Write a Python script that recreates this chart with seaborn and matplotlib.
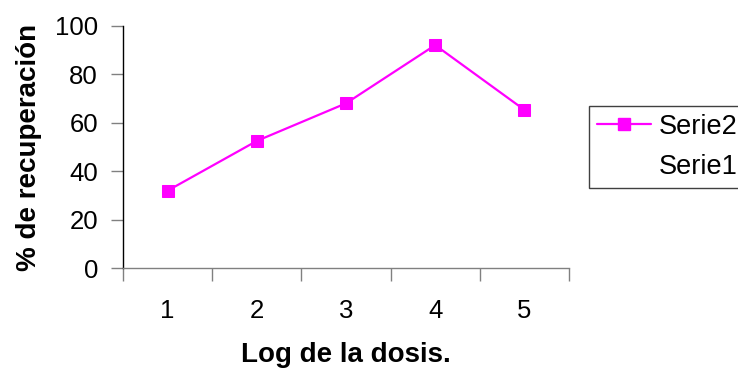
import matplotlib
matplotlib.use("Agg")
import matplotlib.pyplot as plt
from matplotlib.lines import Line2D
from matplotlib.ticker import FixedLocator, NullFormatter
import seaborn as sns
import pandas as pd

dosis = [1, 2, 3, 4, 5]
recuperacion = [32, 52.5, 68, 92, 65.3]
series_names = ["Serie2", "Serie1"]
y_ticks = [0, 20, 40, 60, 80, 100]

sns.set_style("white")
plt.rcParams['font.family'] = ['Liberation Sans', 'DejaVu Sans']
plt.rcParams['text.color'] = 'black'
plt.rcParams['axes.labelcolor'] = 'black'

df = pd.DataFrame({"dosis": dosis, "rec": recuperacion})

fig = plt.figure(figsize=(7.38, 3.71), dpi=100)
ax = fig.add_axes([123/738, 1 - 268.3/371, (569-123)/738, (268.3-25.7)/371])

sns.lineplot(data=df, x="dosis", y="rec", ax=ax, color="#FF00FF", lw=1.6,
             marker="s", markersize=9, markeredgecolor="#FF00FF", legend=False)

ax.set_xlim(0.5, 5.5)
ax.set_ylim(0, 100)
ax.set_yticks(y_ticks)
ax.set_yticklabels([str(t) for t in y_ticks], fontsize=18.5)

# category boundaries as major ticks, labels on minor ticks at category centres
ax.xaxis.set_major_locator(FixedLocator([0.5, 1.5, 2.5, 3.5, 4.5, 5.5]))
ax.xaxis.set_major_formatter(NullFormatter())
ax.xaxis.set_minor_locator(FixedLocator(dosis))
ax.set_xticklabels([str(d) for d in dosis], minor=True, fontsize=18.5)
ax.tick_params(axis="x", which="major", direction="out", length=9, width=1, color="#808080", bottom=True)
ax.tick_params(axis="x", which="minor", length=0, pad=22, labelcolor="black")
ax.tick_params(axis="y", direction="out", length=9, width=1, color="#808080", left=True, pad=9,
               labelcolor="black")

for s in ["top", "right"]:
    ax.spines[s].set_visible(False)
ax.spines["left"].set_color("black")
ax.spines["left"].set_linewidth(1)
ax.spines["bottom"].set_color("#808080")
ax.spines["bottom"].set_linewidth(1)

ax.set_xlabel("Log de la dosis.", fontsize=20, fontweight="bold", labelpad=14)
ax.set_ylabel("% de recuperación", fontsize=20, fontweight="bold", labelpad=9)

handles = [Line2D([], [], color="#FF00FF", lw=1.6, marker="s", markersize=9),
           Line2D([], [], color="none", lw=0)]
leg = fig.legend(handles, series_names, loc="upper left",
                 bbox_to_anchor=(589/738, 1 - 106/371), fontsize=19.5,
                 frameon=True, fancybox=False, framealpha=1, edgecolor="#404040",
                 handlelength=2.0, handletextpad=0.3, borderpad=0.28, labelspacing=0.55,
                 borderaxespad=0)
leg.get_frame().set_linewidth(1)

fig.savefig("out.png", dpi=100)
